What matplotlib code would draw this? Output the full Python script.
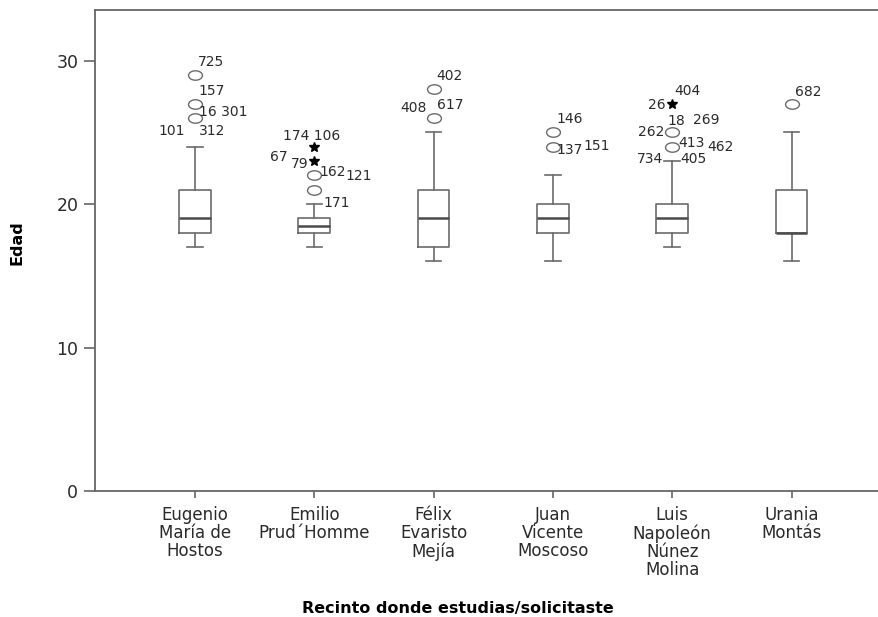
import matplotlib.pyplot as plt
from matplotlib.path import Path
from matplotlib.transforms import Affine2D

plt.rcParams['font.family'] = ['DejaVu Sans']

# recintos y resumen de cinco números de la edad
recintos = ["Eugenio\nMaría de\nHostos", "Emilio\nPrud´Homme", "Félix\nEvaristo\nMejía",
            "Juan\nVicente\nMoscoso", "Luis\nNapoleón\nNúnez\nMolina", "Urania\nMontás"]
bigote_inf = [17, 17, 16, 16, 17, 16]
cuartil1 = [18, 18, 17, 18, 18, 18]
mediana = [19, 18.5, 19, 19, 19, 18]
cuartil3 = [21, 19, 21, 20, 20, 21]
bigote_sup = [24, 20, 25, 22, 23, 25]

# atípicos (círculos) y extremos (estrellas)
atipicos = [[29, 27, 26], [22, 21], [28, 26], [25, 24], [25, 24], [27]]
extremos = [[], [24, 23], [], [], [27], []]

# etiquetas de caso: (recinto, valor, texto, dx, dy, alineación) con dx/dy en píxeles
etiquetas = [
    (0, 29, "725", 3, 13, "left"), (0, 27, "157", 3, 13, "left"),
    (0, 26, "16 301", 4, 6, "left"), (0, 26, "101", -10, -13, "right"),
    (0, 26, "312", 4, -13, "left"),
    (1, 24, "174 106", -31, 11, "left"), (1, 23, "67", -27, 4, "right"),
    (1, 23, "79", -6, -3, "right"), (1, 22, "162", 5, 3, "left"),
    (1, 22, "121", 31, -1, "left"), (1, 21, "171", 9, -13, "left"),
    (2, 28, "402", 3, 13, "left"), (2, 26, "408", -7, 10, "right"),
    (2, 26, "617", 3, 13, "left"),
    (3, 25, "146", 4, 13, "left"), (3, 24, "137", 4, -3, "left"),
    (3, 24, "151", 31, 1, "left"),
    (4, 27, "404", 2, 13, "left"), (4, 27, "26", -7, -1, "right"),
    (4, 25, "18", -5, 11, "left"), (4, 25, "269", 21, 12, "left"),
    (4, 25, "262", -8, 0, "right"), (4, 24, "413", 6, 4, "left"),
    (4, 24, "462", 35, 0, "left"), (4, 24, "734", -9, -12, "right"),
    (4, 24, "405", 8, -12, "left"),
    (5, 27, "682", 3, 12, "left"),
]

gris = "#6b6b6b"
texto = "#2a2a2a"
fig = plt.figure(figsize=(8.79, 6.17), dpi=100)
ax = fig.add_axes([95 / 879, 126 / 617, 784 / 879, 481 / 617])

stats = []
for i in range(len(recintos)):
    stats.append({"med": mediana[i], "q1": cuartil1[i], "q3": cuartil3[i],
                  "whislo": bigote_inf[i], "whishi": bigote_sup[i], "fliers": []})
pos = list(range(len(recintos)))
ax.bxp(stats, positions=pos, widths=0.266, capwidths=0.13, showfliers=False,
       boxprops=dict(color=gris, lw=1.2),
       whiskerprops=dict(color=gris, lw=1.2),
       capprops=dict(color=gris, lw=1.2),
       medianprops=dict(color="#4a4a4a", lw=1.8))

# círculo achatado como en la salida original
ovalo = Path.unit_circle().transformed(Affine2D().scale(1, 0.68))
for i in pos:
    if atipicos[i]:
        ax.plot([i] * len(atipicos[i]), atipicos[i], ls="none", marker=ovalo,
                ms=10, mfc="white", mec=gris, mew=1.0)
    if extremos[i]:
        ax.plot([i] * len(extremos[i]), extremos[i], ls="none", marker="*",
                ms=7.5, color="black")

for g, val, txt, dx, dy, ha in etiquetas:
    ax.annotate(txt, (g, val), xytext=(dx, dy), textcoords="offset pixels",
                ha=ha, va="center", fontsize=10, color=texto)

ax.set_xlim(-0.838, 5.733)
ax.set_ylim(0, 33.52)
ax.set_yticks([0, 10, 20, 30])
ax.set_xticks(pos)
ax.set_xticklabels(recintos, fontsize=12, color=texto, linespacing=1.0)
ax.tick_params(axis="y", length=8, width=1.2, color="#666666", labelsize=12.5,
               labelcolor=texto, pad=4)
ax.tick_params(axis="x", length=5, width=1.2, color="#666666", pad=6)
for s in ["left", "bottom", "top"]:
    ax.spines[s].set_color("#666666")
    ax.spines[s].set_linewidth(1.3)
ax.spines["right"].set_visible(False)

fig.text(17.5 / 879, 1 - 243 / 617, "Edad", rotation=90, ha="center", va="center",
         fontsize=11.5, fontweight="bold")
fig.text(458 / 879, 1 - 608 / 617, "Recinto donde estudias/solicitaste",
         ha="center", va="center", fontsize=11.5, fontweight="bold")

fig.savefig("out.png", dpi=100)
